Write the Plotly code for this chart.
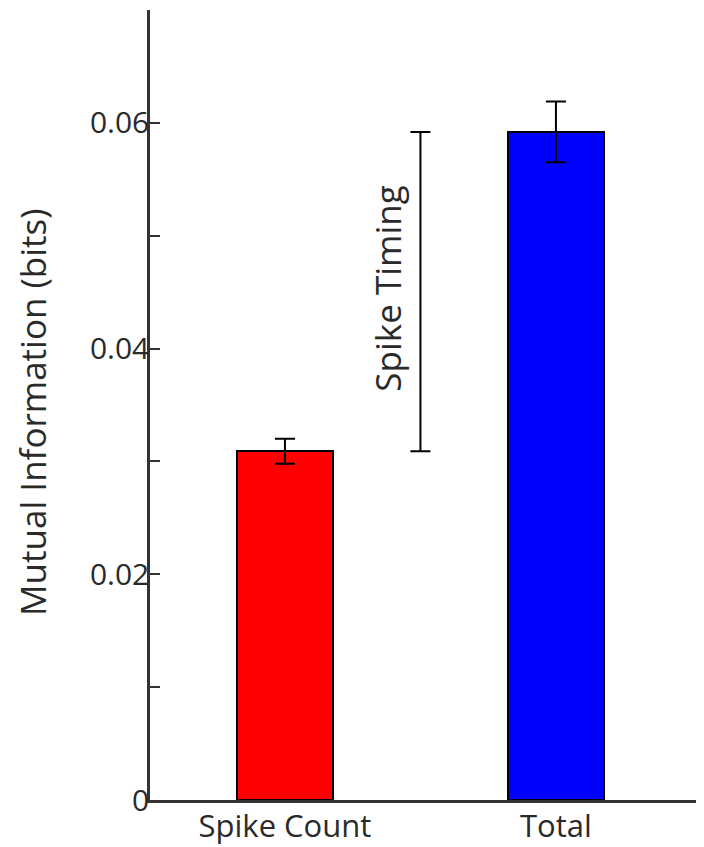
import plotly.graph_objects as go

categories = ["Spike Count", "Total"]
values = [0.0309, 0.0592]
errors = [0.0011, 0.0027]
colors = ["#ff0000", "#0000ff"]
y_tick_vals = [0, 0.01, 0.02, 0.03, 0.04, 0.05, 0.06, 0.07]
y_tick_text = ["0", "", "0.02", "", "0.04", "", "0.06", ""]
bracket_label = "Spike Timing"
y_title = "Mutual Information (bits)"

FONT = "Open Sans"
TXT = "#2a2a2a"
xpos = list(range(len(categories)))

fig = go.Figure()
fig.add_trace(go.Bar(
    x=xpos, y=values, width=0.354,
    marker=dict(color=colors, line=dict(color="black", width=2)),
    error_y=dict(type="data", array=errors, visible=True, color="black", thickness=2, width=10),
    showlegend=False,
))

lo, hi = values[0], values[1]
fig.add_trace(go.Scatter(
    x=[0.5], y=[(lo + hi) / 2], mode="markers",
    marker=dict(size=0.1, color="rgba(0,0,0,0)"),
    error_y=dict(type="data", array=[(hi - lo) / 2], visible=True, color="black", thickness=2, width=10),
    showlegend=False, hoverinfo="skip",
))

fig.add_annotation(x=0.38, y=0.0453, text=bracket_label, textangle=-90,
                   showarrow=False, font=dict(family=FONT, size=35, color=TXT))

fig.add_annotation(x=0, xref="paper", y=0.49, yref="paper", xanchor="center", yanchor="middle",
                   xshift=-117, text=y_title, textangle=-90, showarrow=False,
                   font=dict(family=FONT, size=35, color=TXT))

fig.update_layout(
    width=696, height=839,
    margin=dict(l=142, r=2, t=2, b=47, autoexpand=False),
    plot_bgcolor="white", paper_bgcolor="white",
    bargap=0,
)
fig.update_xaxes(
    range=[-0.498, 1.539], tickvals=xpos, ticktext=categories, automargin=False,
    showline=True, linecolor="#333", linewidth=2.5, ticks="", showgrid=False, zeroline=False,
    ticklabelstandoff=-3,
    tickfont=dict(family=FONT, size=31, color=TXT),
)
fig.update_yaxes(
    range=[0, 0.07], tickvals=y_tick_vals, ticktext=y_tick_text, automargin=False,
    showline=True, linecolor="#333", linewidth=2.5, ticks="inside", ticklen=10, tickwidth=2, tickcolor="#333",
    showgrid=False, zeroline=False, ticklabelstandoff=-8,
    tickfont=dict(family=FONT, size=30, color=TXT),
)

fig.write_html("out.html")
